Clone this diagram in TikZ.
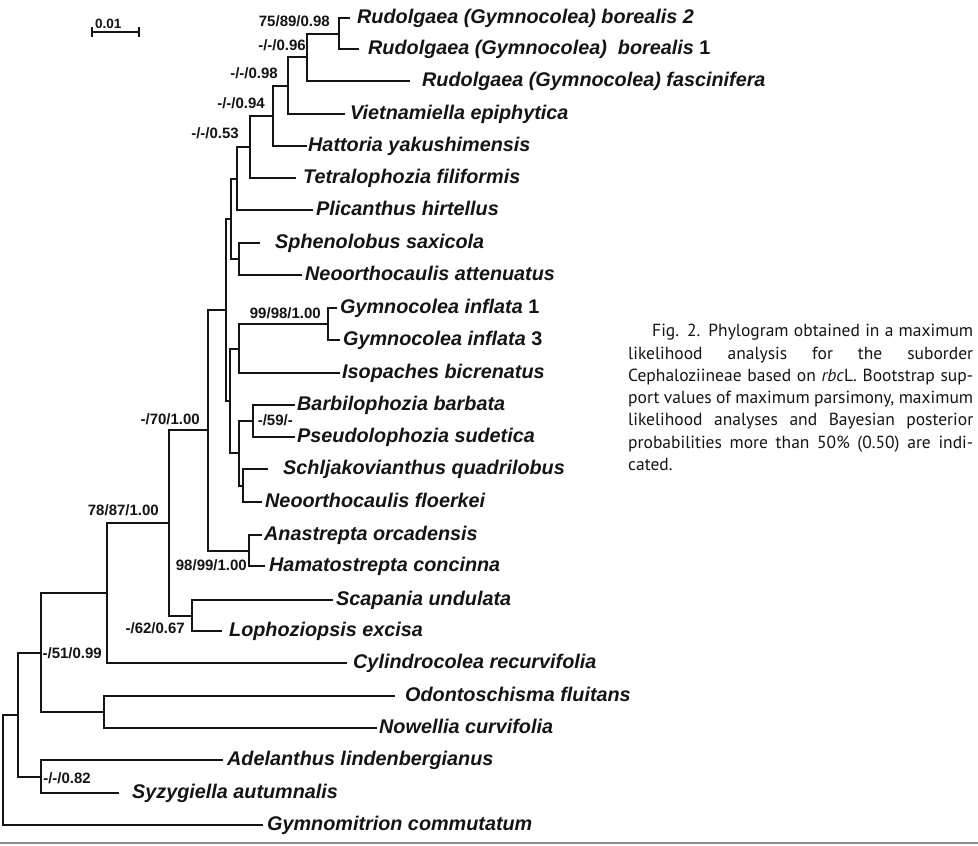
\documentclass[tikz,border=0pt]{standalone}
\usepackage{fontspec}
\setmainfont{Liberation Sans}
\newfontfamily\capfont{PT Sans}
\begin{document}
\begin{tikzpicture}[x=1pt,y=-1pt,
  br/.style={line width=2.4pt, black!92, line join=miter},
  leaf/.style={anchor=base west, inner sep=0pt, text=black!92, font=\fontsize{19.8}{22}\selectfont\bfseries\itshape},
  sup/.style={anchor=base east, inner sep=0pt, text=black!92, font=\fontsize{15}{17}\selectfont\bfseries},
  capline/.style={anchor=base west, inner sep=0pt, text=black!92, font=\capfont\fontsize{17.5}{20}\selectfont}]
\useasboundingbox (0,0) rectangle (978,846);

% ---------- leaf ends ----------
\coordinate (e1) at (350,18);
\coordinate (e2) at (359,49);
\coordinate (e3) at (410,81);
\coordinate (e4) at (345,114);
\coordinate (e5) at (307,146);
\coordinate (e6) at (296,178);
\coordinate (e7) at (313,210);
\coordinate (e8) at (260,243);
\coordinate (e9) at (302,275);
\coordinate (e10) at (337,308);
\coordinate (e11) at (340,340);
\coordinate (e12) at (340,373);
\coordinate (e13) at (295,405);
\coordinate (e14) at (295,437);
\coordinate (e15) at (268,469);
\coordinate (e16) at (262,502);
\coordinate (e17) at (262,535);
\coordinate (e18) at (265,566);
\coordinate (e19) at (333,600);
\coordinate (e20) at (222,631);
\coordinate (e21) at (347,663);
\coordinate (e22) at (395,696);
\coordinate (e23) at (377,728);
\coordinate (e24) at (223,760);
\coordinate (e25) at (119,793);
\coordinate (e26) at (263,825);

% ---------- internal nodes ----------
\coordinate (nb) at (339,34);
\coordinate (nr) at (307,57);
\coordinate (nv) at (288,86);
\coordinate (nh) at (273,116);
\coordinate (nt) at (250,147);
\coordinate (np) at (237,179);
\coordinate (ns) at (239,259);
\coordinate (nps) at (231,219);
\coordinate (ngi) at (328,324);
\coordinate (ngI) at (239,349);
\coordinate (nbp) at (253,421);
\coordinate (nsn) at (243,486);
\coordinate (nbs) at (239,453);
\coordinate (ngb) at (230,401);
\coordinate (nbig) at (226,310);
\coordinate (nah) at (249,551);
\coordinate (n70) at (208,430);
\coordinate (nsl) at (192,616);
\coordinate (n78) at (169,523);
\coordinate (nc) at (107,593);
\coordinate (non) at (104,712);
\coordinate (n51) at (41,653);
\coordinate (nas) at (41,777);
\coordinate (n18) at (18,715);
\coordinate (root) at (3,770);

% ---------- branches (child -| node |- child) ----------
\draw[br] (e1) -| (nb) |- (e2);
\draw[br] (nb) -| (nr) |- (e3);
\draw[br] (nr) -| (nv) |- (e4);
\draw[br] (nv) -| (nh) |- (e5);
\draw[br] (nh) -| (nt) |- (e6);
\draw[br] (nt) -| (np) |- (e7);
\draw[br] (e8) -| (ns) |- (e9);
\draw[br] (np) -| (nps) |- (ns);
\draw[br] (e10) -| (ngi) |- (e11);
\draw[br] (ngi) -| (ngI) |- (e12);
\draw[br] (e13) -| (nbp) |- (e14);
\draw[br] (e15) -| (nsn) |- (e16);
\draw[br] (nbp) -| (nbs) |- (nsn);
\draw[br] (ngI) -| (ngb) |- (nbs);
\draw[br] (nps) -| (nbig) |- (ngb);
\draw[br] (e17) -| (nah) |- (e18);
\draw[br] (nbig) -| (n70) |- (nah);
\draw[br] (e19) -| (nsl) |- (e20);
\draw[br] (n70) -| (n78) |- (nsl);
\draw[br] (n78) -| (nc) |- (e21);
\draw[br] (e22) -| (non) |- (e23);
\draw[br] (nc) -| (n51) |- (non);
\draw[br] (e24) -| (nas) |- (e25);
\draw[br] (n51) -| (n18) |- (nas);
\draw[br] (n18) -| (root) |- (e26);

% ---------- leaf labels ----------
\node[leaf] (t1) at (357,23.5) {Rudolgaea (Gymnocolea) borealis 2};
\node[leaf] (t2) at (368,54.5) {Rudolgaea (Gymnocolea)\ \ borealis {\upshape 1}};
\node[leaf] (t3) at (422,86.5) {Rudolgaea (Gymnocolea) fascinifera};
\node[leaf] (t4) at (350,119.5) {Vietnamiella epiphytica};
\node[leaf] (t5) at (308,151.5) {Hattoria yakushimensis};
\node[leaf] (t6) at (303,183.5) {Tetralophozia filiformis};
\node[leaf] (t7) at (316,215.5) {Plicanthus hirtellus};
\node[leaf] (t8) at (275,248.5) {Sphenolobus saxicola};
\node[leaf] (t9) at (305,280.5) {Neoorthocaulis attenuatus};
\node[leaf] (t10) at (340,313.5) {Gymnocolea inflata {\upshape 1}};
\node[leaf] (t11) at (343,345.5) {Gymnocolea inflata {\upshape 3}};
\node[leaf] (t12) at (342,378.5) {Isopaches bicrenatus};
\node[leaf] (t13) at (297,410.5) {Barbilophozia barbata};
\node[leaf] (t14) at (297,442.5) {Pseudolophozia sudetica};
\node[leaf] (t15) at (283,474.5) {Schljakovianthus quadrilobus};
\node[leaf] (t16) at (265,507.5) {Neoorthocaulis floerkei};
\node[leaf] (t17) at (264,540.5) {Anastrepta orcadensis};
\node[leaf] (t18) at (269,571.5) {Hamatostrepta concinna};
\node[leaf] (t19) at (336,605.5) {Scapania undulata};
\node[leaf] (t20) at (229,636.5) {Lophoziopsis excisa};
\node[leaf] (t21) at (353,668.5) {Cylindrocolea recurvifolia};
\node[leaf] (t22) at (405,701.5) {Odontoschisma fluitans};
\node[leaf] (t23) at (379,733.5) {Nowellia curvifolia};
\node[leaf] (t24) at (227,765.5) {Adelanthus lindenbergianus};
\node[leaf] (t25) at (132,798.5) {Syzygiella autumnalis};
\node[leaf] (t26) at (267,830.5) {Gymnomitrion commutatum};

% ---------- support values ----------
\node[sup] (s1) at (330,26.5) {75/89/0.98};
\node[sup] (s2) at (306,50.5) {-/-/0.96};
\node[sup] (s3) at (278,78) {-/-/0.98};
\node[sup] (s4) at (265,108) {-/-/0.94};
\node[sup] (s5) at (239,138.5) {-/-/0.53};
\node[sup] (s6) at (321,318) {99/98/1.00};
\node[sup] (s7) at (293,425) {-/59/-};
\node[sup] (s8) at (200,424) {-/70/1.00};
\node[sup] (s9) at (159,515) {78/87/1.00};
\node[sup] (s10) at (247,570) {98/99/1.00};
\node[sup] (s11) at (185,633) {-/62/0.67};
\node[sup] (s12) at (102,658.5) {-/51/0.99};
\node[sup] (s13) at (91,783) {-/-/0.82};

% ---------- scale bar ----------
\coordinate (sa) at (92,32);
\coordinate (sb) at (139,32);
\draw[line width=2pt, black!92] (sa) -- (sb);
\draw[line width=2pt, black!92] (92,27) -- (92,37);
\draw[line width=2pt, black!92] (139,27) -- (139,37);
\node[anchor=base west, inner sep=0pt, text=black!92, font=\fontsize{13.5}{15}\selectfont\bfseries] (sl) at (95,28.5) {0.01};

% ---------- caption ----------
\node[capline] (c1) at (652,336.7) {\makebox[321pt][s]{Fig. 2. Phylogram obtained in a maximum}};
\node[capline] (c2) at (628,359) {\makebox[345pt][s]{likelihood analysis for the suborder}};
\node[capline] (c3) at (628,381.3) {\makebox[345pt][s]{Cephaloziineae based on \textit{rbc}L. Bootstrap sup-}};
\node[capline] (c4) at (628,403.6) {\makebox[345pt][s]{port values of maximum parsimony, maximum}};
\node[capline] (c5) at (628,425.9) {\makebox[345pt][s]{likelihood analyses and Bayesian posterior}};
\node[capline] (c6) at (628,448.2) {\makebox[345pt][s]{probabilities more than 50\% (0.50) are indi-}};
\node[capline] (c7) at (628,470.5) {cated.};

% ---------- bottom rule ----------
\draw[line width=2pt, black!45] (0,843) -- (978,843);
\end{tikzpicture}
\end{document}
